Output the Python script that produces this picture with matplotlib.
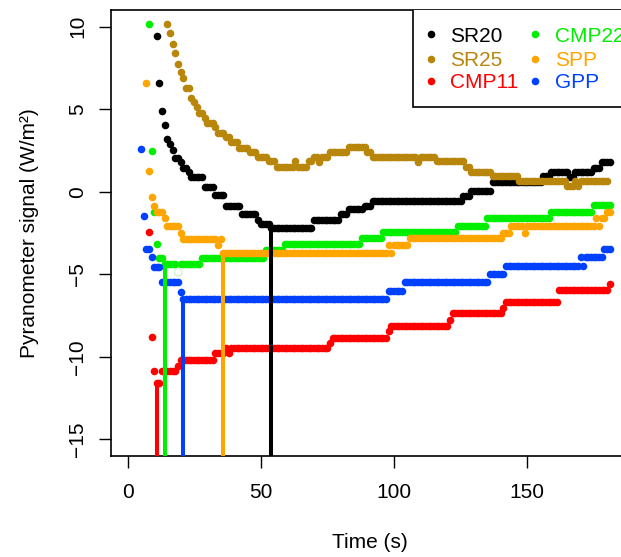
import numpy as np
import matplotlib
matplotlib.use("Agg")
import matplotlib.pyplot as plt
from matplotlib.patches import Rectangle

plt.rcParams['font.family'] = ['Liberation Sans', 'DejaVu Sans']

# Each record is sampled once per second and quantised, so it is stored as
# first second + run levels (W/m2) + run lengths (s).
sr20_start = 11
sr20_levels = [9.43, 6.56, 4.90, 4.03, 3.17, 2.89, 2.53, 2.03, 1.77, 1.42, 1.17, 0.91,
               0.28, -0.22, -0.85, -1.37, -1.71, -1.97, -2.20, -1.71, -1.35, -1.07, -0.87,
               -0.54, -0.26, 0.06, 0.61, 0.95, 1.17, 0.91, 1.17, 1.42, 1.78]
sr20_runs = [1, 1, 1, 1, 1, 1, 1, 2, 1, 2, 1, 5, 4, 4, 6, 6, 1, 4, 16, 10, 3, 6, 3,
             34, 3, 8, 19, 3, 7, 2, 7, 3, 4]

sr25_start = 15
sr25_levels = [10.13, 9.59, 8.94, 8.40, 7.75, 7.23, 6.86, 6.30, 5.69, 5.41, 5.13, 4.76,
               4.46, 4.18, 3.92, 3.57, 3.29, 3.00, 2.66, 2.40, 2.12, 1.86, 1.50, 1.86,
               1.50, 1.86, 2.12, 1.82, 2.12, 2.42, 2.70, 2.42, 2.12, 1.82, 2.12, 1.86,
               1.50, 1.22, 0.96, 0.66, 0.32, 0.66, 0.32, 0.66]
sr25_runs = [1, 1, 1, 1, 1, 1, 1, 2, 1, 1, 1, 2, 1, 3, 1, 3, 2, 3, 4, 3, 4, 3,
             7, 1, 4, 2, 2, 1, 3, 7, 7, 2, 17, 1, 6, 11, 2, 8, 10, 18, 3, 1, 1, 11]

cmp11_start = 8
cmp11_levels = [-2.44, -8.81, -10.85, -11.60, -10.85, -10.53, -10.19, -9.78, -9.48, -9.78,
                -9.48, -9.14, -8.84, -8.41, -8.11, -7.77, -7.36, -7.02, -6.69, -5.95, -5.61]
cmp11_runs = [1, 1, 1, 2, 6, 1, 13, 4, 1, 1, 37, 1, 21, 1, 22, 1, 19, 1, 20, 19, 1]

cmp22_start = 8
cmp22_levels = [10.15, 2.46, -1.21, -3.15, -4.03, -4.38, np.nan, -4.38, -4.03, -3.50,
                -3.17, -2.78, -2.42, -2.06, -1.57, -1.21, -0.82]
cmp22_runs = [1, 1, 1, 1, 2, 5, 1, 8, 24, 7, 29, 8, 28, 11, 24, 16, 7]
# the one CMP22 sample shown as a pale open circle
cmp22_odd_t = [19]
cmp22_odd_v = [-4.88]

spp_start = 7
spp_levels = [6.58, 1.25, -0.35, -0.85, -1.21, -1.61, -2.08, -2.48, -2.86, -3.23, -2.86,
              -3.69, -3.23, -3.69, -3.23, -2.82, -2.48, -2.10, -2.48, -2.10, -1.61, -2.10,
              -1.61, -1.21]
spp_runs = [1, 1, 1, 1, 3, 1, 5, 1, 13, 1, 1, 62, 1, 1, 6, 35, 3, 5, 1, 26, 1, 1, 2, 2]

gpp_start = 5
gpp_levels = [2.58, -1.49, -3.47, -3.93, -4.54, -5.45, -6.05, -6.51, -6.01, -5.45, -4.98,
              -4.50, -3.93, -4.50, -3.93, -3.47]
gpp_runs = [1, 1, 2, 1, 3, 7, 1, 77, 6, 32, 6, 28, 1, 1, 7, 3]

names = ["SR20", "SR25", "CMP11", "CMP22", "SPP", "GPP"]
colors = ["#000000", "#B8860B", "#FF0000", "#00EE00", "#FFA500", "#0040FF"]
starts = [sr20_start, sr25_start, cmp11_start, cmp22_start, spp_start, gpp_start]
levels = [sr20_levels, sr25_levels, cmp11_levels, cmp22_levels, spp_levels, gpp_levels]
runs = [sr20_runs, sr25_runs, cmp11_runs, cmp22_runs, spp_runs, gpp_runs]
# response time marks (s)
resp_time = [54, None, 11, 14, 36, 21]

fig = plt.figure(figsize=(6.21, 5.57), dpi=100)
ax = fig.add_axes([111 / 621, 101 / 557, 518 / 621, 446 / 557])
ymin = -16
dot = 30

series = []
for st, lv, rn in zip(starts, levels, runs):
    v = np.repeat(np.array(lv, dtype=float), rn)
    t = st + np.arange(len(v))
    series.append((t, v))

for (t, v), c in zip(series, colors):
    ax.scatter(t, v, s=dot, color=c, linewidths=0, zorder=2)

ax.scatter(cmp22_odd_t, cmp22_odd_v, s=dot, facecolors='none', edgecolors='#c8f2c8',
           linewidths=0.8, zorder=2)

for (t, v), c, rt in zip(series, colors, resp_time):
    if rt is None:
        continue
    level = v[t == rt][0]
    ax.plot([rt, rt], [ymin, level], color=c, lw=2.9, solid_capstyle='butt', zorder=3)

ax.set_xlim(-6.2, 188.2)
ax.set_ylim(ymin, 11)
ax.set_xticks([0, 50, 100, 150])
ax.set_yticks([-15, -10, -5, 0, 5, 10])
ax.tick_params(axis='both', direction='out', length=8.6, width=1.0, labelsize=15)
ax.tick_params(axis='x', pad=11)
ax.tick_params(axis='y', pad=8.5, labelrotation=90)
for lab in ax.get_yticklabels():
    lab.set_va('center')
for sp in ax.spines.values():
    sp.set_linewidth(1.2)

ax.set_xlabel("Time (s)", fontsize=15)
ax.xaxis.set_label_coords(0.5, -(543 - 456) / 446)
ax.xaxis.label.set_va('center')
ax.set_ylabel("Pyranometer signal (W/m²)", fontsize=15)
ax.yaxis.set_label_coords((30 - 111) / 518, 0.5)
ax.yaxis.label.set_va('center')

# legend, drawn by hand to match the boxed two-column layout
ax.add_patch(Rectangle((0.583, 0.7825), 0.6, 0.3, transform=ax.transAxes,
                       facecolor='white', edgecolor='black', lw=1.2, zorder=5))
mark_x = [0.6178, 0.6178, 0.6178, 0.8185, 0.8185, 0.8185]
text_x = [0.6544, 0.6544, 0.6544, 0.857, 0.857, 0.857]
mark_y = [0.9469, 0.8908, 0.8408] * 2
base_y = [0.9289, 0.8744, 0.8244] * 2
for name, c, mx, tx, my, by in zip(names, colors, mark_x, text_x, mark_y, base_y):
    ax.scatter([mx], [my], s=dot, color=c, linewidths=0, transform=ax.transAxes,
               zorder=6, clip_on=False)
    ax.text(tx, by, name, color=c, fontsize=15, va='baseline', ha='left',
            transform=ax.transAxes, zorder=6)

fig.savefig("out.png", dpi=100)
